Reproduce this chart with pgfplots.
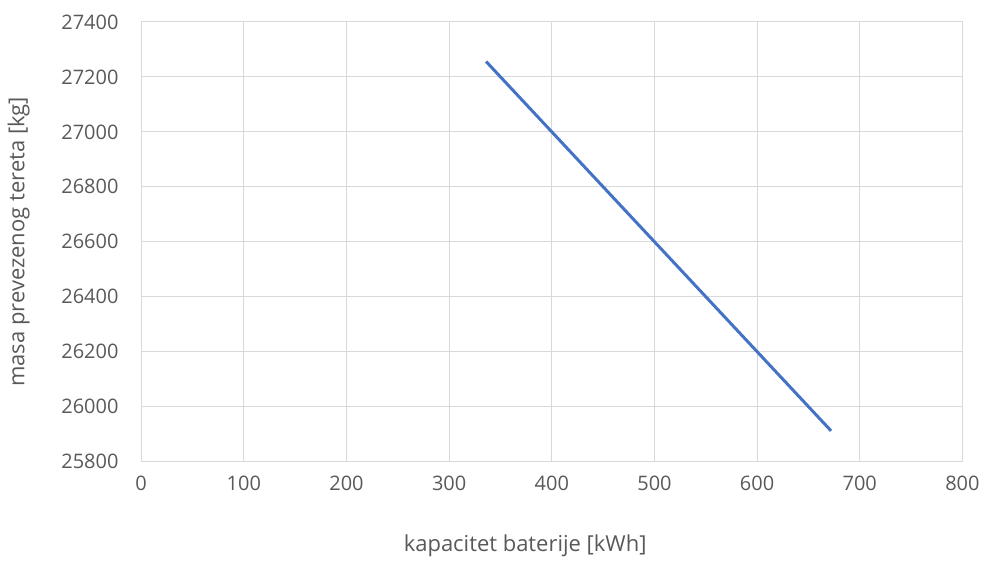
\documentclass[border=0pt]{standalone}
\usepackage{fontspec}
\setmainfont{Open Sans}
\usepackage{pgfplots}
\pgfplotsset{compat=1.18}
\definecolor{gridgray}{HTML}{D9D9D9}
\definecolor{txt}{HTML}{595959}
\definecolor{lineblue}{HTML}{4472C4}
\begin{document}
\begin{tikzpicture}
\begin{axis}[
  scale only axis,
  width=616.5pt, height=330pt,
  xmin=0, xmax=800, ymin=25800, ymax=27400,
  xtick={0,100,...,800},
  ytick={25800,26000,26200,26400,26600,26800,27000,27200,27400},
  scaled y ticks=false,
  grid=major,
  major grid style={gridgray, line width=0.75pt},
  axis line style={gridgray, line width=0.75pt},
  tick style={draw=none},
  ticklabel style={font=\fontsize{15}{17}\selectfont, text=txt},
  /pgf/number format/assume math mode=true,
  /pgf/number format/1000 sep={},
  xticklabel style={yshift=-7pt},
  yticklabel style={xshift=-13.5pt},
  xlabel={kapacitet baterije [kWh]},
  ylabel={masa prevezenog tereta [kg]},
  label style={font=\fontsize{16.5}{19}\selectfont, text=txt},
  xlabel style={at={(axis description cs:0.5,0)}, anchor=center, yshift=-63pt, xshift=-20pt},
  ylabel style={at={(axis description cs:0,0.5)}, anchor=center, yshift=92pt},
]
\addplot[lineblue, line width=2.25pt] coordinates {(336,27256) (672,25912)};
\coordinate (sw) at (rel axis cs:0,0);
\coordinate (ne) at (rel axis cs:1,1);
\end{axis}
\useasboundingbox (sw) ++(-106pt,-73.5pt) rectangle ([shift={(16pt,16.5pt)}]ne);
\end{tikzpicture}
\end{document}
